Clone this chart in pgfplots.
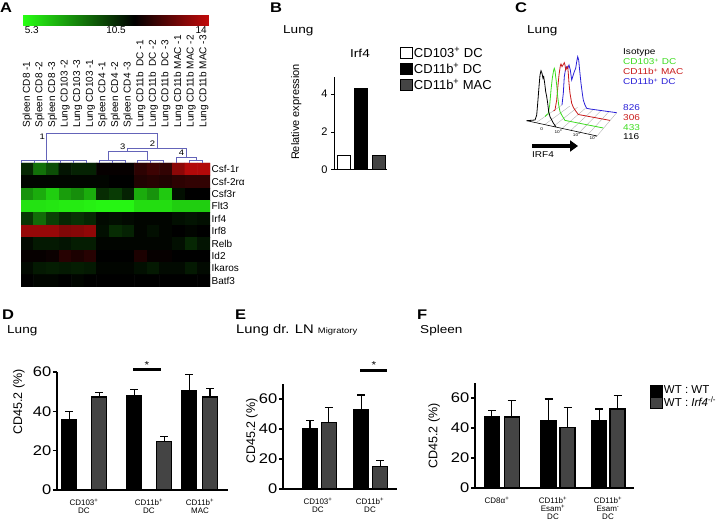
\documentclass[border=0pt]{standalone}
\usepackage{pgfplots}
\pgfplotsset{compat=1.18}
\usepackage{pgfplotstable}
\usepackage{fontspec}
\setmainfont{Liberation Sans}[FakeStretch=1.18]
\newfontfamily\plainfont{Liberation Sans}
\usetikzlibrary{arrows.meta}
\definecolor{dgray}{RGB}{68,68,68}
\definecolor{dendro}{RGB}{100,100,185}
\definecolor{cgreen}{RGB}{60,220,30}
\definecolor{cred}{RGB}{200,25,25}
\definecolor{cblue}{RGB}{40,30,215}
\newcommand{\fs}[1]{\fontsize{#1}{#1}\selectfont}
\newcommand{\sps}{\textsuperscript{+}}
\pgfplotsset{/pgf/number format/assume math mode=true}

\pgfplotstableread{
x y e
69.2 36.0 4.0
134.2 47.8 3.2
189.2 50.4 8.2
}\Dwt
\pgfplotstableread{
x y e
99.2 47.3 2.2
164.2 24.5 2.9
210.0 47.3 4.2
}\Dko
\pgfplotstableread{
x y e
310.0 40.5 5.0
361.2 52.7 10.0
}\Ewt
\pgfplotstableread{
x y e
328.8 44.5 10.0
380.3 15.0 4.0
}\Eko
\pgfplotstableread{
x y e
491.8 47.3 4.5
548.5 45.0 14.3
599.2 44.9 7.8
}\Fwt
\pgfplotstableread{
x y e
511.7 47.3 11.0
567.5 40.4 13.4
617.5 52.7 9.1
}\Fko

\pgfplotsset{
  barpanel/.style={
    scale only axis, anchor=south west, clip=false,
    axis x line*=bottom, axis y line*=left,
    axis line style={-, line width=1.4pt},
    tick align=outside, major tick length=4pt,
    ytick={0,20,40,60},
    ytick style={line width=1.4pt, black},
    xtick style={draw=none},
    yticklabel style={font=\fs{14}, inner xsep=1.5pt},
    xticklabel style={font=\plainfont\fs{8}, align=center, inner sep=1pt, yshift=-4pt},
    ylabel style={font=\plainfont\fs{12.5}, anchor=south},
    ylabel={CD45.2 (\%)},
    error bars/y dir=plus, error bars/y explicit,
    error bars/error bar style={line width=1.2pt, black},
    error bars/error mark options={rotate=90, mark size=4pt, line width=1.2pt, black},
  },
  wtbar/.style={ybar, bar width=15, bar shift=0pt, fill=black, draw=black, line width=1.2pt},
  kobar/.style={ybar, bar width=15, bar shift=0pt, fill=dgray, draw=black, line width=1.2pt},
}

\begin{document}
\begin{tikzpicture}
\path[use as bounding box] (0pt,0pt) rectangle (724pt,528pt);

% ---------------- Panel letters and titles
\node[anchor=base west, inner sep=0] at (0pt,515pt) {\fs{14}\bfseries A};
\node[anchor=base west, inner sep=0] at (270pt,515pt) {\fs{14}\bfseries B};
\node[anchor=base west, inner sep=0] at (515pt,515pt) {\fs{14}\bfseries C};
\node[anchor=base west, inner sep=0] at (2pt,208pt) {\fs{14}\bfseries D};
\node[anchor=base west, inner sep=0] at (235pt,208pt) {\fs{14}\bfseries E};
\node[anchor=base west, inner sep=0] at (417pt,208pt) {\fs{14}\bfseries F};
\node[anchor=base west, inner sep=0] at (283pt,494.5pt) {\fs{11.5}Lung};
\node[anchor=base, inner sep=0] at (360pt,470pt) {\fs{11.5}Irf4};
\node[anchor=base west, inner sep=0] at (527pt,494pt) {\fs{11.5}Lung};
\node[anchor=base west, inner sep=0] at (7pt,194.5pt) {\fs{11.5}Lung};
\node[anchor=base west, inner sep=0] at (236pt,194.5pt) {\fs{12.5}Lung dr. LN {\fs{8}Migratory}};
\node[anchor=base west, inner sep=0] at (420pt,194.5pt) {\fs{11.5}Spleen};

% ---------------- Panel A: heatmap
\begin{axis}[at={(21pt,241pt)}, anchor=south west, scale only axis, width=189pt, height=124pt,
  xmin=0.5, xmax=15.5, ymin=0.5, ymax=10.5, y dir=reverse, enlargelimits=false,
  axis line style={draw=none}, xtick=\empty, ytick={1,...,10},
  yticklabels={Csf-1r,Csf-2rα,Csf3r,Flt3,Irf4,Irf8,Relb,Id2,Ikaros,Batf3},
  yticklabel pos=right, major tick length=0pt,
  yticklabel style={font=\plainfont\fs{10}, anchor=west, inner xsep=1.5pt},
  colormap={hm}{rgb255(0pt)=(40,255,20); rgb255(52pt)=(0,0,0); rgb255(87pt)=(195,10,10)},
  point meta min=5.3, point meta max=14,
  colorbar horizontal,
  colorbar style={at={(parent axis.north west)}, anchor=south west, xshift=2pt, yshift=146pt,
    scale only axis, width=186pt, height=10pt, xtick={5.71,9.65,13.63}, xticklabels={5.3,10.5,14},
    xticklabel pos=lower, xticklabel style={font=\plainfont\fs{10}, inner sep=1pt},
    major tick length=0pt, axis line style={draw=none}, ytick=\empty}]
\addplot[matrix plot*, mesh/cols=15, point meta=explicit] coordinates {
(1,1) [9.7] (2,1) [8.2] (3,1) [8.9] (4,1) [10.1] (5,1) [9.8] (6,1) [9.8] (7,1) [10.6] (8,1) [10.6] (9,1) [10.6] (10,1) [11.3] (11,1) [11.6] (12,1) [11.4] (13,1) [13.0] (14,1) [13.7] (15,1) [13.7]
(1,2) [10.4] (2,2) [10.4] (3,2) [10.4] (4,2) [10.4] (5,2) [10.4] (6,2) [10.4] (7,2) [10.4] (8,2) [10.5] (9,2) [10.5] (10,2) [11.1] (11,2) [11.2] (12,2) [11.1] (13,2) [11.3] (14,2) [11.4] (15,2) [11.4]
(1,3) [7.5] (2,3) [7.0] (3,3) [6.3] (4,3) [7.3] (5,3) [7.6] (6,3) [7.0] (7,3) [9.6] (8,3) [9.3] (9,3) [9.8] (10,3) [7.0] (11,3) [7.5] (12,3) [6.4] (13,3) [10.2] (14,3) [10.5] (15,3) [10.5]
(1,4) [5.9] (2,4) [5.9] (3,4) [5.8] (4,4) [5.7] (5,4) [5.7] (6,4) [5.6] (7,4) [5.5] (8,4) [5.5] (9,4) [5.5] (10,4) [6.0] (11,4) [6.0] (12,4) [6.0] (13,4) [6.3] (14,4) [6.3] (15,4) [6.3]
(1,5) [9.4] (2,5) [8.3] (3,5) [9.2] (4,5) [9.7] (5,5) [9.5] (6,5) [9.7] (7,5) [10.3] (8,5) [10.2] (9,5) [10.3] (10,5) [10.4] (11,5) [10.4] (12,5) [10.4] (13,5) [10.2] (14,5) [10.1] (15,5) [10.2]
(1,6) [13.2] (2,6) [13.2] (3,6) [13.2] (4,6) [12.8] (5,6) [12.9] (6,6) [13.1] (7,6) [10.2] (8,6) [9.6] (9,6) [9.8] (10,6) [10.4] (11,6) [10.2] (12,6) [10.4] (13,6) [10.5] (14,6) [10.4] (15,6) [10.5]
(1,7) [10.3] (2,7) [10.0] (3,7) [10.0] (4,7) [10.1] (5,7) [9.9] (6,7) [9.9] (7,7) [10.4] (8,7) [10.4] (9,7) [10.4] (10,7) [10.4] (11,7) [10.4] (12,7) [10.4] (13,7) [10.2] (14,7) [9.7] (15,7) [10.1]
(1,8) [10.6] (2,8) [10.6] (3,8) [10.7] (4,8) [11.2] (5,8) [11.0] (6,8) [11.2] (7,8) [10.5] (8,8) [10.5] (9,8) [10.5] (10,8) [11.0] (11,8) [10.6] (12,8) [10.6] (13,8) [10.5] (14,8) [10.5] (15,8) [10.5]
(1,9) [10.3] (2,9) [10.0] (3,9) [9.9] (4,9) [10.0] (5,9) [9.9] (6,9) [10.0] (7,9) [10.4] (8,9) [10.4] (9,9) [10.4] (10,9) [10.2] (11,9) [10.0] (12,9) [10.3] (13,9) [10.3] (14,9) [10.0] (15,9) [10.3]
(1,10) [10.5] (2,10) [10.4] (3,10) [10.4] (4,10) [10.5] (5,10) [10.4] (6,10) [10.5] (7,10) [10.5] (8,10) [10.5] (9,10) [10.5] (10,10) [10.5] (11,10) [10.5] (12,10) [10.5] (13,10) [10.5] (14,10) [10.5] (15,10) [10.5]
};
\end{axis}

% ---------------- Panel A: dendrogram and column labels
\begin{axis}[at={(21pt,365pt)}, anchor=south west, scale only axis, width=189pt, height=35pt,
  xmin=0.5, xmax=15.5, ymin=128, ymax=163, y dir=reverse, clip=false,
  axis line style={draw=none}, ytick=\empty, xtick={1,...,15}, major tick length=0pt,
  xticklabels={Spleen CD8 -1,Spleen CD8 -2,Spleen CD8 -3,Lung CD103 -2,Lung CD103 -3,Lung CD103 -1,Spleen CD4 -1,Spleen CD4 -2,Spleen CD4 -3,Lung CD11b~~DC -1,Lung CD11b~~DC -2,Lung CD11b~~DC -3,Lung CD11b MAC -1,Lung CD11b MAC -2,Lung CD11b MAC -3},
  xticklabel pos=upper, xticklabel style={rotate=90, anchor=west, font=\plainfont\fs{10}, inner sep=0.5pt}]
\addplot[dendro, line width=0.8pt] coordinates {(0.55,163)(0.55,160)(1.575,160)(1.575,163)(1.575,160)(2.6,160)(2.6,163)(2.6,160)(3.625,160)(3.625,163)(3.625,160)(4.65,160)(4.65,163)(4.65,160)(5.675,160)(5.675,163)};
\addplot[dendro, line width=0.8pt] coordinates {(6.7,163)(6.7,160)(7.725,160)(7.725,163)(7.725,160)(8.75,160)(8.75,163)};
\addplot[dendro, line width=0.8pt] coordinates {(9.775,163)(9.775,160)(10.8,160)(10.8,163)(10.8,160)(11.825,160)(11.825,163)};
\addplot[dendro, line width=0.8pt] coordinates {(13.875,163)(13.875,160)(14.9,160)(14.9,163)};
\addplot[dendro, line width=0.8pt] coordinates {(12.85,163)(12.85,157)(14.39,157)(14.39,160)};
\addplot[dendro, line width=0.8pt] coordinates {(7.4,160)(7.4,151)(10.5,151)(10.5,160)};
\addplot[dendro, line width=0.8pt] coordinates {(8.95,151)(8.95,148)(13.62,148)(13.62,157)};
\addplot[dendro, line width=0.8pt] coordinates {(2.48,160)(2.48,133)(11.29,133)(11.29,148)};
\node[anchor=north east, inner sep=0.6pt, font=\fs{8}] at (axis cs:2.45,133.3) {1};
\node[anchor=south east, inner sep=0.6pt, font=\fs{8}] at (axis cs:11.2,147.8) {2};
\node[anchor=south east, inner sep=0.6pt, font=\fs{8}] at (axis cs:8.85,150.8) {3};
\node[anchor=south east, inner sep=0.6pt, font=\fs{8}] at (axis cs:13.5,156.8) {4};
\end{axis}

% ---------------- Panel B
\begin{axis}[at={(334pt,358pt)}, anchor=south west, scale only axis, width=53pt, height=93pt,
  xmin=334, xmax=387, ymin=0, ymax=4.9, clip=false,
  axis x line*=bottom, axis y line*=left, axis line style={-, line width=1pt},
  xtick=\empty, ytick={0,2,4}, tick align=outside, major tick length=3pt,
  ytick style={line width=1pt, black}, yticklabel style={font=\plainfont\fs{11}},
  ylabel={Relative expression},
  ylabel style={font=\plainfont\fs{11}, at={(axis description cs:-0.547,0.624)}, anchor=south},
  legend style={at={(axis description cs:1.245,1.323)}, anchor=north west, draw=none, fill=none,
    inner sep=0pt, font=\plainfont\fs{13}, row sep=4.5pt, nodes={inner xsep=1pt, inner ysep=0pt}},
  legend cell align=left,
  legend image code/.code={\draw[#1, line width=0.8pt] (0pt,-5pt) rectangle (12pt,5.5pt);}]
\addplot[ybar, bar width=13, bar shift=0pt, fill=white, draw=black, line width=1pt] coordinates {(343.5,0.79)};
\addlegendentry{CD103\sps{} DC}
\addplot[ybar, bar width=13, bar shift=0pt, fill=black, draw=black, line width=1pt] coordinates {(361,4.3)};
\addlegendentry{CD11b\sps{} DC}
\addplot[ybar, bar width=13, bar shift=0pt, fill=dgray, draw=black, line width=1pt] coordinates {(378.5,0.79)};
\addlegendentry{CD11b\sps{} MAC}
\end{axis}

% ---------------- Panel C: histogram overlay
\begin{axis}[at={(500pt,358pt)}, anchor=south west, scale only axis, width=224pt, height=140pt,
  xmin=500, xmax=724, ymin=30, ymax=170, y dir=reverse, hide axis, clip=false]
\addplot[gray!60, line width=0.4pt] coordinates {(536,122.7)(562,105)};
\addplot[gray!60, line width=0.4pt] coordinates {(544.7,124.6)(569.8,106.1)};
\addplot[gray!60, line width=0.4pt] coordinates {(553.4,126.5)(577.6,107.2)};
\addplot[gray!60, line width=0.4pt] coordinates {(562.1,128.4)(585.4,108.3)};
\addplot[gray!60, line width=0.4pt] coordinates {(570.9,130.3)(593.3,109.4)};
\addplot[gray!60, line width=0.4pt] coordinates {(579.6,132.2)(601.1,110.5)};
\addplot[gray!60, line width=0.4pt] coordinates {(588.3,134.1)(608.9,111.6)};
\addplot[gray!60, line width=0.4pt] coordinates {(597,136)(616.7,112.7)};
\addplot[black, line width=0.6pt] coordinates {(526.7,120.7)(597,136)};
\addplot[cblue, line width=0.8pt] coordinates {(562,105)(563.3,93.3)(564.3,76.7)(565.7,68.3)(566.7,66.7)(567.7,68.3)(569,65)(570.3,70)(571.7,80)(572.7,76.7)(574.3,71.7)(575.7,68.3)(576.7,61.7)(577.7,56.7)(578.7,60)(579.3,66.7)(580.3,76.7)(581,83.3)(582.3,93.3)(583.3,100)(585,105)(586.7,108.3)(590,109)(616.7,112.7)};
\addplot[cred, line width=0.8pt] coordinates {(553.5,111)(555,110)(556.7,100)(557.7,88.3)(559,75)(560.3,66)(561,64)(562,66.7)(563,65)(564.3,62.7)(565,65)(565.7,70)(566.7,68.3)(567.7,66.7)(568.3,73.3)(569,83.3)(570,93.3)(571.7,103.3)(573.3,107.3)(575,110)(578.3,114.5)(610,120.4)};
\addplot[cgreen, line width=0.8pt] coordinates {(545,116.5)(548.3,113.3)(549.7,105)(551,90)(552.3,78.3)(553.7,70)(554.3,68.3)(555,70.7)(555.7,76.7)(556.7,85)(557.7,96.7)(558.7,105)(560,111.7)(561.7,115)(565,120.4)(603.3,128)};
\addplot[black, line width=0.8pt] coordinates {(526.7,120.7)(535,120)(536.7,115)(537.7,103.3)(539,86.7)(540,75)(541,70.7)(542,73.3)(543,78.3)(543.7,76.7)(544.7,83.3)(545.7,91.7)(546.7,96.7)(547.7,103.3)(548.7,111.7)(550,116.7)(553.3,123)(556,126.9)};
\node[anchor=base, inner sep=0, font=\fs{4}] at (axis cs:541.7,131) {0};
\node[anchor=base, inner sep=0, font=\fs{4}] at (axis cs:558.3,133.5) {10\textsuperscript{3}};
\node[anchor=base, inner sep=0, font=\fs{4}] at (axis cs:576.7,137) {10\textsuperscript{4}};
\node[anchor=base, inner sep=0, font=\fs{4}] at (axis cs:593.3,139.5) {10\textsuperscript{5}};
\addplot[black, line width=4pt, -{Triangle[length=8pt, width=11pt]}] coordinates {(532,146)(578,146)};
\node[anchor=base west, inner sep=0, font=\fs{8.5}] at (axis cs:532,158) {IRF4};
\node[anchor=base west, inner sep=0, font=\fs{8.5}] at (axis cs:623,55) {Isotype};
\node[anchor=base west, inner sep=0, font=\fs{8.5}, text=cgreen] at (axis cs:623,65) {CD103\sps{} DC};
\node[anchor=base west, inner sep=0, font=\fs{8.5}, text=cred] at (axis cs:623,75) {CD11b\sps{} MAC};
\node[anchor=base west, inner sep=0, font=\fs{8.5}, text=cblue] at (axis cs:623,85) {CD11b\sps{} DC};
\node[anchor=base west, inner sep=0, font=\fs{8.5}, text=cblue] at (axis cs:623,111) {826};
\node[anchor=base west, inner sep=0, font=\fs{8.5}, text=cred] at (axis cs:623,120.5) {306};
\node[anchor=base west, inner sep=0, font=\fs{8.5}, text=cgreen] at (axis cs:623,130.5) {433};
\node[anchor=base west, inner sep=0, font=\fs{8.5}] at (axis cs:623,140) {116};
\end{axis}

% ---------------- Panel D
\begin{axis}[barpanel, at={(57pt,38pt)}, width=171pt, height=118pt,
  xmin=57, xmax=228, ymin=0, ymax=60,
  xtick={84,149,200}, xticklabels={{CD103\sps\\DC},{CD11b\sps\\DC},{CD11b\sps\\MAC}},
  ylabel style={at={(axis description cs:-0.168,0.746)}}]
\addplot[wtbar] table[x=x,y=y,y error=e]{\Dwt};
\addplot[kobar] table[x=x,y=y,y error=e]{\Dko};
\addplot[black, line width=3pt, error bars/y dir=none] coordinates {(133,61.3)(161,61.3)};
\node[anchor=base, inner sep=0, font=\fs{10}] at (axis cs:147,62.0) {*};
\end{axis}

% ---------------- Panel E
\begin{axis}[barpanel, at={(283pt,39pt)}, width=114pt, height=105pt,
  xmin=283, xmax=397, ymin=0, ymax=70,
  xtick={318,370}, xticklabels={{CD103\sps\\DC},{CD11b\sps\\DC}},
  ylabel style={at={(axis description cs:-0.19,0.55)}}]
\addplot[wtbar] table[x=x,y=y,y error=e]{\Ewt};
\addplot[kobar] table[x=x,y=y,y error=e]{\Eko};
\addplot[black, line width=3pt, error bars/y dir=none] coordinates {(360,79.3)(387,79.3)};
\node[anchor=base, inner sep=0, font=\fs{10}] at (axis cs:374,80.3) {*};
\end{axis}

% ---------------- Panel F
\begin{axis}[barpanel, at={(475pt,40pt)}, width=159pt, height=105pt,
  xmin=475, xmax=634, ymin=0, ymax=70,
  xtick={497,553,608},
  xticklabels={{CD8α\sps},{CD11b\sps\\Esam\sps\\DC},{CD11b\sps\\Esam\textsuperscript{-}\\DC}},
  ylabel style={at={(axis description cs:-0.198,0.495)}},
  legend style={at={(axis description cs:1.1006,0.985)}, anchor=north west, draw=none, fill=none,
    inner sep=0pt, font=\plainfont\fs{11.5}, row sep=0pt, nodes={inner xsep=1pt, inner ysep=0pt}},
  legend cell align=left,
  legend image code/.code={\draw[#1, line width=0.8pt] (0pt,-5.5pt) rectangle (12pt,5.5pt);}]
\addplot[wtbar] table[x=x,y=y,y error=e]{\Fwt};
\addlegendentry{WT : WT}
\addplot[kobar] table[x=x,y=y,y error=e]{\Fko};
\addlegendentry{WT : \textit{Irf4}\textsuperscript{-/-}}
\end{axis}
\end{tikzpicture}
\end{document}
